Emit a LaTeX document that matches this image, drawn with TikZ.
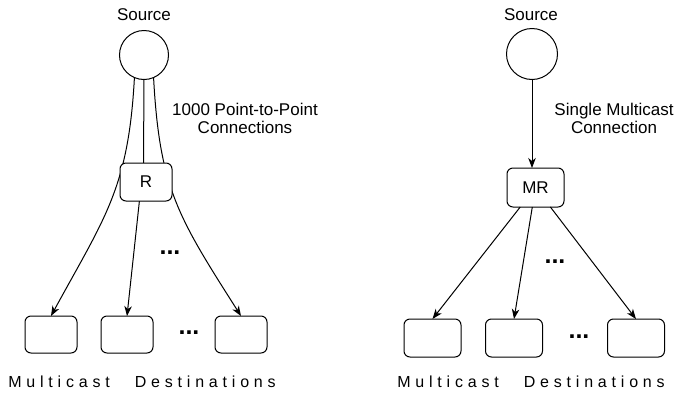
\documentclass[tikz,border=0pt]{standalone}
\usepackage{fontspec}
\setmainfont{Liberation Sans}
\newfontfamily\spacedfont[LetterSpace=30]{Liberation Sans}
\usetikzlibrary{arrows.meta,backgrounds}
\begin{document}
\begin{tikzpicture}[x=1pt,y=-1pt,
  every node/.style={inner sep=0pt, outer sep=0pt},
  srcnode/.style={circle, draw, line width=1pt, fill=white},
  router/.style={draw, rounded corners=6pt, line width=1pt, fill=white, font=\fontsize{17}{17}\selectfont},
  dest/.style={draw, rounded corners=6pt, line width=1pt, fill=white},
  title/.style={font=\fontsize{17}{17}\selectfont},
  lbl/.style={font=\fontsize{17}{18}\selectfont, align=center},
  dotsnode/.style={font=\bfseries\fontsize{25}{25}\selectfont},
  caption/.style={font=\spacedfont\fontsize{16}{16}\selectfont},
  conn/.style={line width=1pt, -{Stealth[length=10pt,width=7.5pt,inset=3pt]}}
]
\useasboundingbox (0,0) rectangle (681,400);

% ---------- left: point-to-point ----------
\node[title] (t1) at (144,15) {Source};
\node[srcnode, minimum size=49pt] (s1) at (144,55) {};
\node[router, minimum width=52pt, minimum height=38pt] (r1) at (146,182) {R};
\node[dest, minimum width=52pt, minimum height=37pt] (a1) at (51,334.5) {};
\node[dest, minimum width=52pt, minimum height=37pt] (a2) at (127,334.5) {};
\node[dest, minimum width=52pt, minimum height=37pt] (a3) at (241,334.5) {};
\node[dotsnode] (da1) at (170,253) {...};
\node[dotsnode] (da2) at (189,333) {...};
\node[lbl] (l1) at (245,118) {1000 Point-to-Point\\Connections};
\node[caption] (c1) at (142,382) {Multicast\hspace{25pt}Destinations};

\begin{scope}[on background layer]
  \draw[conn] (s1.247) .. controls +(-6,111) and +(54,-99) .. (a1.north);
  \draw[conn] (s1.south) -- ([xshift=-2.5pt]r1.north) -- (a2.north);
  \draw[conn] (s1.293) .. controls +(6,111) and +(-63,-99) .. (a3.north);
\end{scope}

% ---------- right: multicast ----------
\node[title] (t2) at (531,15) {Source};
\node[srcnode, minimum size=51pt] (s2) at (532,54) {};
\node[router, minimum width=57pt, minimum height=39pt] (m) at (535.5,187.5) {MR};
\node[dest, minimum width=57pt, minimum height=38pt] (b1) at (432.5,338) {};
\node[dest, minimum width=57pt, minimum height=38pt] (b2) at (514,338) {};
\node[dest, minimum width=57pt, minimum height=38pt] (b3) at (636,338) {};
\node[dotsnode] (db1) at (555,262) {...};
\node[dotsnode] (db2) at (579,337) {...};
\node[lbl] (l2) at (614,118) {Single Multicast\\Connection};
\node[caption] (c2) at (531,382) {Multicast\hspace{25pt}Destinations};

\draw[conn] (s2.south) -- (s2.south |- m.north);
\draw[conn] (m) -- (b1.north);
\draw[conn] (m) -- (b2.north);
\draw[conn] (m) -- (b3.north);
\end{tikzpicture}
\end{document}
